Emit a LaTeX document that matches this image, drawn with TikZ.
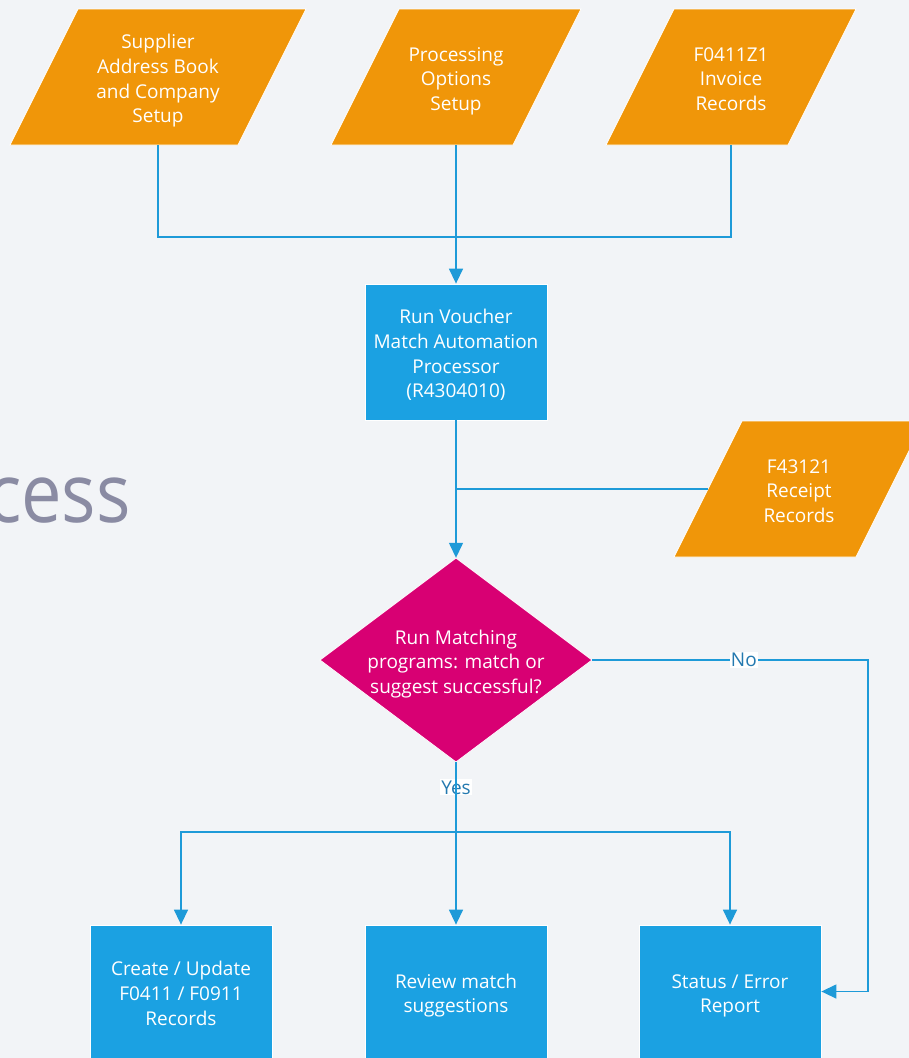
\documentclass[tikz,border=0pt]{standalone}
\usepackage{graphicx}
\usepackage{fontspec}
\setmainfont{Open Sans}
\usetikzlibrary{arrows.meta}

\definecolor{pagebg}{HTML}{F2F4F7}
\definecolor{dataorange}{HTML}{F09609}
\definecolor{procblue}{HTML}{1BA1E2}
\definecolor{decmagenta}{HTML}{D80073}
\definecolor{flowline}{HTML}{1E9AD8}
\definecolor{flowlabel}{HTML}{2479B0}
\definecolor{titlegrey}{HTML}{8A8BA3}

% centred multi-line text block, set a little below the geometric centre
\newcommand\stack[1]{\raisebox{-4pt}[\height][\depth]{\begin{tabular}{@{}c@{}}#1\end{tabular}}}

\tikzset{
  shapetext/.style={text=white, inner sep=0pt,
    font=\fontsize{19}{24.7}\selectfont},
  datatext/.style={shapetext, minimum width=182pt, minimum height=136pt},
  procbox/.style={shapetext, fill=procblue, draw=white, line width=0.8pt,
    minimum width=182pt, minimum height=136pt},
  flow/.style={draw=flowline, line width=1.4pt},
  flowarrow/.style={flow, -{Triangle[length=15pt,width=14pt]}},
  flowtag/.style={fill=white, text=flowlabel, inner sep=1pt,
    font=\fontsize{19}{22}\selectfont},
}

% data parallelogram: centre x, centre y, half edge width (skew 34 each side)
\newcommand\datashape[3]{%
  \fill[dataorange, draw=white, line width=0.8pt]
    (#1-#3-34,#2+68) -- (#1+#3-34,#2+68) -- (#1+#3+34,#2-68) -- (#1-#3+34,#2-68) -- cycle;}

\begin{document}
\begin{tikzpicture}[x=1pt,y=-1pt]
  \useasboundingbox (0,0) rectangle (909,1058);
  \clip (0,0) rectangle (909,1058);
  \fill[pagebg] (0,0) rectangle (909,1058);

  % title fragment
  \node[anchor=base east, text=titlegrey, inner sep=0pt,
        font=\fontsize{82}{90}\selectfont] (title) at (131,522)
        {\scalebox{0.88}[1]{cess}};

  % input data
  \datashape{158}{77}{114}
  \node[datatext, minimum width=228pt] (d1) at (158,77)
    {\stack{Supplier\\Address Book\\and Company\\Setup}};
  \datashape{456}{77}{91}
  \node[datatext] (d2) at (456,77) {\stack{Processing\\Options\\Setup}};
  \datashape{731}{77}{91}
  \node[datatext] (d3) at (731,77) {\stack{F0411Z1\\Invoice\\Records}};
  \datashape{799}{489}{91}
  \node[datatext] (d4) at (799,489) {\stack{F43121\\Receipt\\Records}};

  % processing
  \node[procbox] (run) at (456,352)
    {\stack{Run Voucher\\Match Automation\\Processor\\(R4304010)}};

  % decision
  \fill[decmagenta, draw=white, line width=0.8pt]
    (456,558) -- (592,660) -- (456,762) -- (320,660) -- cycle;
  \node[shapetext, minimum width=272pt, minimum height=204pt] (dec) at (456,660)
    {\stack{Run Matching\\programs: match or\\suggest successful?}};

  % outcomes
  \node[procbox, minimum height=133pt] (s1) at (181,991.5)
    {\stack{Create / Update\\F0411 / F0911\\Records}};
  \node[procbox, minimum height=133pt] (s2) at (456,991.5)
    {\stack{Review match\\suggestions}};
  \node[procbox, minimum height=133pt] (s3) at (730,991.5)
    {\stack{Status / Error\\Report}};

  % junction points
  \coordinate (j1) at (456,237);
  \coordinate (j2) at (456,489);
  \coordinate (j3) at (868,660);
  \coordinate (j4) at (456,832);

  % connectors
  \draw[flow] (d1.south) |- (j1) -| (d3.south);
  \draw[flowarrow] (d2.south) -- (run.north);
  \draw[flowarrow] (run.south) -- (dec.north);
  \draw[flow] (d4.west) -- (j2);
  \draw[flowarrow] (dec.east) -- node[flowtag, pos=0.55] {No} (j3) |- (s3.east);
  \path (dec.south) -- node[flowtag, pos=0.36] {Yes} (j4);
  \draw[flow] (dec.south) -- (j4);
  \draw[flowarrow] (j4) -| (s1.north);
  \draw[flowarrow] (j4) -- (s2.north);
  \draw[flowarrow] (j4) -| (s3.north);
\end{tikzpicture}
\end{document}
